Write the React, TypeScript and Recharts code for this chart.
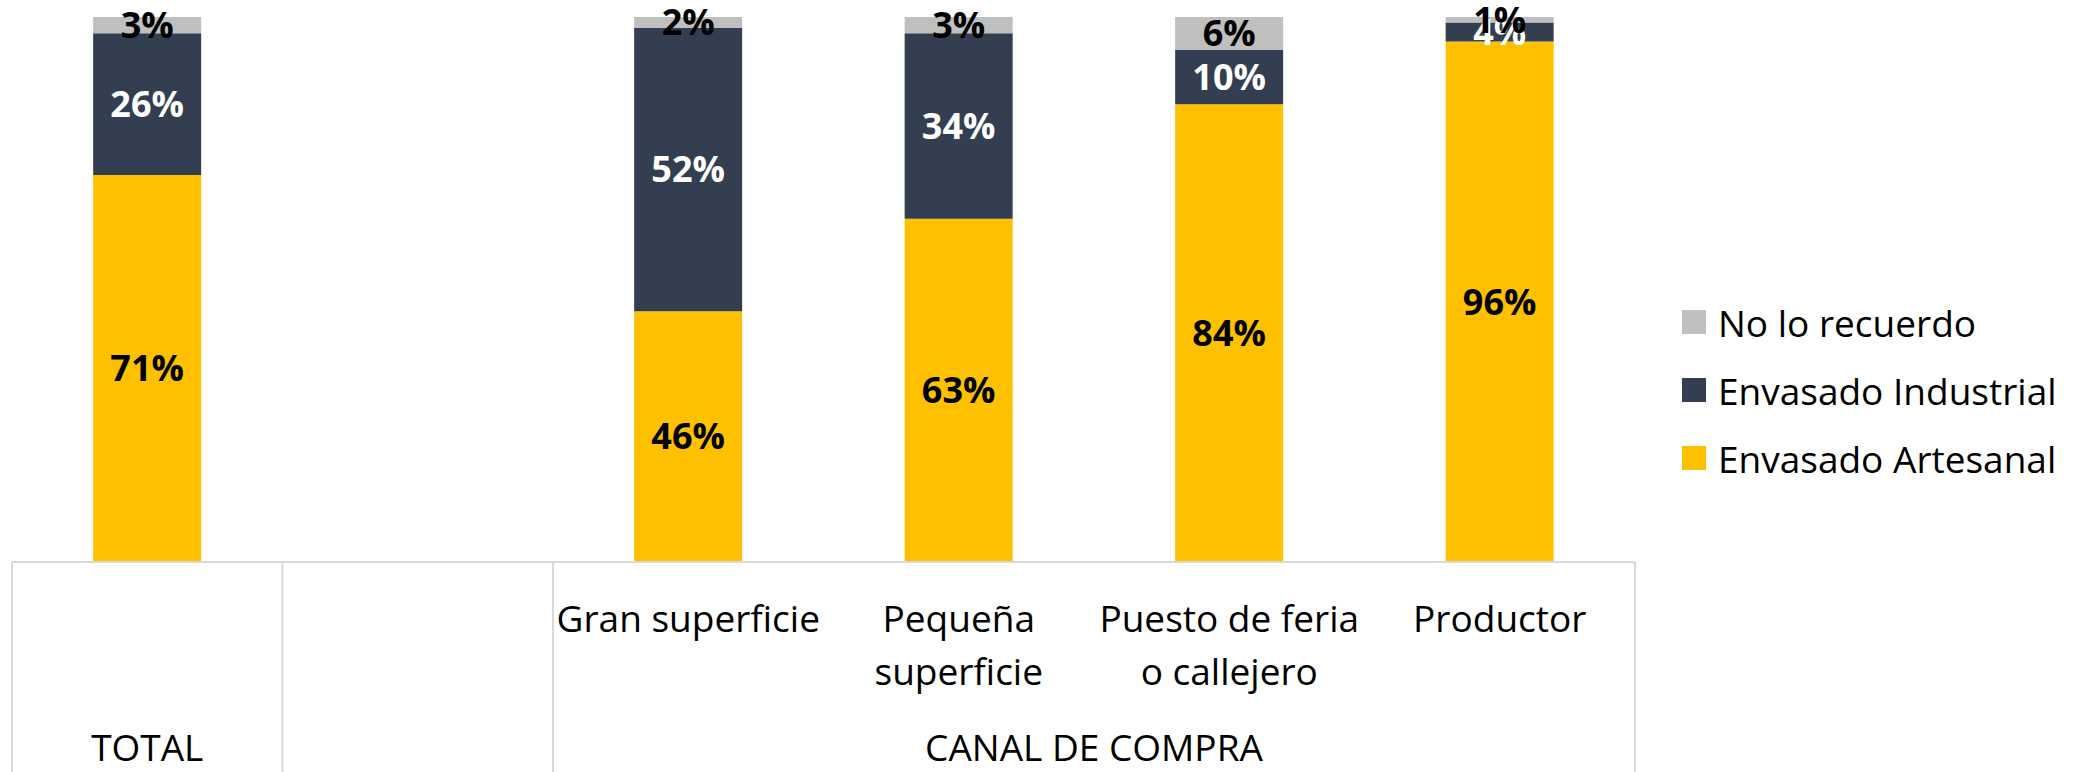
import React from 'react';
import { BarChart, Bar, XAxis, YAxis, LabelList, Legend } from 'recharts';

// ---- data ----
const categoryKeys = ['total', 'blank', 'gran', 'pequena', 'puesto', 'productor'];
const categoryLines: string[][] = [
  [],
  [],
  ['Gran superficie'],
  ['Pequeña', 'superficie'],
  ['Puesto de feria', 'o callejero'],
  ['Productor'],
];
const groupLabels = ['TOTAL', '', 'CANAL DE COMPRA'];
const groupSpans = [1, 1, 4];

const seriesNames = ['Envasado Artesanal', 'Envasado Industrial', 'No lo recuerdo'];
const seriesKeys = ['artesanal', 'industrial', 'norecuerdo'];
const artesanal = [71, null, 46, 63, 84, 95.5];
const industrial = [26, null, 52, 34, 10, 3.5];
const noRecuerdo = [3, null, 2, 3, 6, 1];

// ---- style ----
const COLORS = ['#FFC000', '#333F50', '#BFBFBF'];
const LABEL_COLORS = ['#000000', '#FFFFFF', '#000000'];
const FONT = "'Open Sans', sans-serif";
const W = 2074;
const H = 772;
const MARGIN = { top: 17, right: 439, bottom: 0, left: 12 };
const AXIS_H = 210;
const PLOT_W = W - MARGIN.left - MARGIN.right;
const BAND = PLOT_W / categoryKeys.length;
const GRID = '#D9D9D9';

const data = categoryKeys.map((k, i) => ({
  name: k,
  artesanal: artesanal[i],
  industrial: industrial[i],
  norecuerdo: noRecuerdo[i],
}));

const groupStarts: number[] = [];
groupSpans.reduce((acc, s) => {
  groupStarts.push(acc);
  return acc + s;
}, 0);

const CategoryTick = (props: any) => {
  const { x, y, index } = props;
  const lines = categoryLines[index] || [];
  const half = BAND / 2;
  const els: React.ReactNode[] = [];
  lines.forEach((ln, j) => {
    els.push(
      <text key={'l' + j} x={x} y={y + 70 + j * 53} textAnchor="middle" fontFamily={FONT} fontSize={37} fill="#000">
        {ln}
      </text>
    );
  });
  const g = groupStarts.indexOf(index);
  if (g >= 0) {
    const left = x - half;
    els.push(<line key="sepL" x1={left} x2={left} y1={y} y2={y + AXIS_H} stroke={GRID} strokeWidth={2} />);
    if (g === groupStarts.length - 1) {
      const right = left + groupSpans[g] * BAND;
      els.push(<line key="sepR" x1={right} x2={right} y1={y} y2={y + AXIS_H} stroke={GRID} strokeWidth={2} />);
    }
    if (groupLabels[g]) {
      els.push(
        <text key="grp" x={left + (groupSpans[g] * BAND) / 2} y={y + 199} textAnchor="middle" fontFamily={FONT} fontSize={37} fill="#000">
          {groupLabels[g]}
        </text>
      );
    }
  }
  return <g>{els}</g>;
};

const renderLegend = () => (
  <div>
    {[2, 1, 0].map((i) => (
      <div key={i} style={{ display: 'flex', alignItems: 'center', height: 68 }}>
        <div style={{ width: 24, height: 24, background: COLORS[i], marginRight: 12, flex: 'none' }} />
        <span style={{ fontSize: 37, fontFamily: FONT, color: '#000', lineHeight: 1, whiteSpace: 'nowrap' }}>
          {seriesNames[i]}
        </span>
      </div>
    ))}
  </div>
);

const fmt = (v: any) => (v == null ? '' : `${Math.round(Number(v))}%`);

export default function App() {
  return (
    <div style={{ position: 'absolute', left: 0, top: 0, width: W, height: H, background: '#fff' }}>
      <BarChart width={W} height={H} data={data} margin={MARGIN} barCategoryGap="30%">
        <XAxis
          dataKey="name"
          interval={0}
          height={AXIS_H}
          tickSize={0}
          tickMargin={0}
          tickLine={false}
          axisLine={{ stroke: GRID, strokeWidth: 2 }}
          tick={<CategoryTick />}
        />
        <YAxis hide domain={[0, 100]} />
        <Legend
          layout="vertical"
          align="center"
          verticalAlign="middle"
          content={renderLegend}
          wrapperStyle={{ left: 1682, top: 288, width: 390 }}
        />
        {seriesKeys.map((k, i) => (
          <Bar key={k} dataKey={k} name={seriesNames[i]} stackId="a" fill={COLORS[i]} isAnimationActive={false}>
            <LabelList
              dataKey={k}
              position="center"
              formatter={fmt}
              fill={LABEL_COLORS[i]}
              fontFamily={FONT}
              fontWeight={700}
              fontSize={36}
            />
          </Bar>
        ))}
      </BarChart>
    </div>
  );
}
